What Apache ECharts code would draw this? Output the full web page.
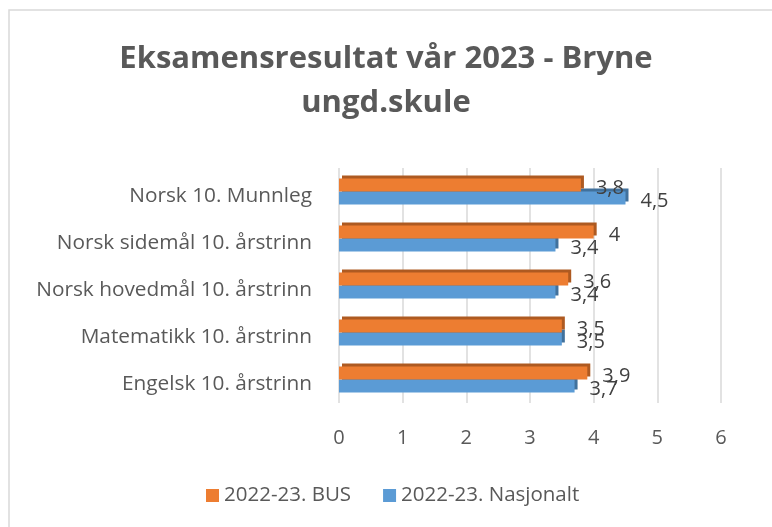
<!DOCTYPE html>
<html>
<head>
<meta charset="utf-8">
<script src="https://cdn.jsdelivr.net/npm/echarts@6/dist/echarts.min.js"></script>
<style>html,body{margin:0;padding:0;background:#fff;}#c{width:772px;height:527px;}</style>
</head>
<body>
<div id="c"></div>
<script>
const titleText = 'Eksamensresultat vår 2023 - Bryne\nungd.skule';
const categories = ['Engelsk 10. årstrinn', 'Matematikk 10. årstrinn', 'Norsk hovedmål 10. årstrinn', 'Norsk sidemål 10. årstrinn', 'Norsk 10. Munnleg'];
const seriesNames = ['2022-23. BUS', '2022-23. Nasjonalt'];
const busValues = [3.9, 3.5, 3.6, 4, 3.8];
const nasjonaltValues = [3.7, 3.5, 3.4, 3.4, 4.5];
const xTicks = [0, 1, 2, 3, 4, 5, 6];

const FONT = 'Open Sans';
const chart = echarts.init(document.getElementById('c'), null, {renderer: 'canvas'});
const fmt = p => String(p.value).replace('.', ',');
chart.setOption({
  animation: false,
  backgroundColor: '#fff',
  graphic: [{
    type: 'rect', shape: {x: 9, y: 10, width: 800, height: 560},
    style: {fill: 'none', stroke: '#d9d9d9', lineWidth: 1.5}, silent: true, z: -10
  }],
  title: {
    text: titleText, left: 'center', top: 32,
    textStyle: {fontFamily: FONT, fontSize: 31, fontWeight: 'bold', color: '#595959', lineHeight: 44}
  },
  legend: {
    data: seriesNames, top: 480, left: 201, itemWidth: 13, itemHeight: 13, itemGap: 32, icon: 'rect',
    textStyle: {fontFamily: FONT, fontSize: 20.5, color: '#595959', padding: [0, 0, 0, 0]}
  },
  grid: {left: 339, right: 51, top: 168, bottom: 124, containLabel: false},
  xAxis: {
    type: 'value', min: xTicks[0], max: xTicks[xTicks.length - 1], interval: 1,
    axisLine: {show: false}, axisTick: {show: false},
    axisLabel: {margin: 25, fontFamily: FONT, fontSize: 20, color: '#595959', formatter: v => String(v)},
    splitLine: {show: true, lineStyle: {color: '#d9d9d9', width: 1.5}}
  },
  yAxis: {
    type: 'category', data: categories,
    axisLine: {show: false}, axisTick: {show: false},
    axisLabel: {margin: 27, fontFamily: FONT, fontSize: 20.8, color: '#595959', verticalAlign: 'top', lineHeight: 10}
  },
  series: [
    {
      name: seriesNames[0], type: 'bar', data: busValues, barWidth: 13, barGap: '0%', z: 3,
      itemStyle: {color: '#ed7d31', shadowColor: '#ae5a21', shadowOffsetX: 3, shadowOffsetY: -3, shadowBlur: 0},
      label: {show: true, position: 'right', distance: 15, offset: [0, 3], formatter: fmt, fontFamily: FONT, fontSize: 20, color: '#404040'}
    },
    {
      name: seriesNames[1], type: 'bar', data: nasjonaltValues, barWidth: 13, barGap: '0%', z: 2,
      itemStyle: {color: '#5b9bd5', shadowColor: '#41719c', shadowOffsetX: 3, shadowOffsetY: -3, shadowBlur: 0},
      label: {show: true, position: 'right', distance: 15, offset: [0, 3], formatter: fmt, fontFamily: FONT, fontSize: 20, color: '#404040'}
    }
  ]
});
</script>
</body>
</html>
